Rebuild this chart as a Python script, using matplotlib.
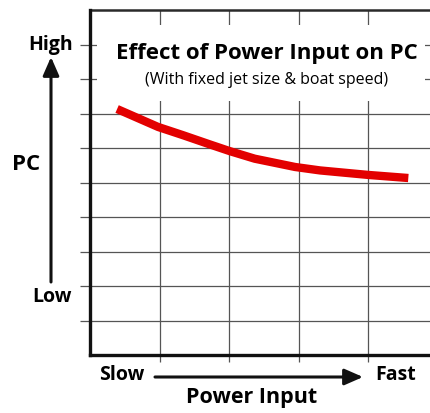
import matplotlib
matplotlib.use('Agg')
import matplotlib.pyplot as plt
from matplotlib.patches import Rectangle, FancyArrowPatch

# curve, in grid units (x: grid columns, y: grid rows)
power_input = [0.39, 0.98, 1.34, 1.73, 2.01, 2.37, 2.95, 3.31, 4.0, 4.58]
pc = [7.13, 6.61, 6.37, 6.10, 5.91, 5.69, 5.45, 5.35, 5.22, 5.13]

x_grid = [1, 2, 3, 4]
y_grid = [1, 2, 3, 4, 5, 6, 7, 8, 9]

title = 'Effect of Power Input on PC'
subtitle = '(With fixed jet size & boat speed)'

W, H = 430, 413
plt.rcParams['font.family'] = ['Open Sans', 'DejaVu Sans']

fig = plt.figure(figsize=(W / 100, H / 100), dpi=100)

def px(x, y):
    # image pixel (top-left origin) -> figure fraction
    return x / W, 1 - y / H

ax = fig.add_axes([90 / W, 1 - 355 / H, 340 / W, 345 / H])
ax.set_xlim(0, 340 / 69.5)
ax.set_ylim(0, 10)

grid_c = '#555555'
ax.set_xticks(x_grid)
ax.set_yticks(y_grid)
ax.set_xticklabels([])
ax.set_yticklabels([])
ax.tick_params(axis='x', direction='out', length=5, width=0.9, color=grid_c)
ax.tick_params(axis='y', direction='out', length=7.5, width=0.9, color=grid_c)
ax.grid(True, color=grid_c, linewidth=0.9)

ax.spines['right'].set_visible(False)
for s in ['left', 'bottom']:
    ax.spines[s].set_linewidth(2.4)
    ax.spines[s].set_color('#111111')
    ax.spines[s].set_zorder(5)
ax.spines['top'].set_linewidth(1.8)
ax.spines['top'].set_color('#2a2a2a')

# white panel behind the title
ax.add_patch(Rectangle((0.1, 7.35), 4.72, 2.22, facecolor='white',
                       edgecolor='none', zorder=3))

ax.plot(power_input, pc, color='#e30000', linewidth=6,
        solid_capstyle='butt', solid_joinstyle='round', zorder=4)

fig.text(*px(267, 53), title, ha='center', va='center',
         fontsize=16, fontweight='bold', zorder=6)
fig.text(*px(267, 80), subtitle, ha='center', va='center',
         fontsize=11.5, zorder=6)

# axis labels and arrows
lab = dict(ha='center', va='center', fontweight='bold', fontsize=14)
fig.text(*px(51, 45), 'High', **lab)
fig.text(*px(26, 165), 'PC', ha='center', va='center',
         fontweight='bold', fontsize=16)
fig.text(*px(52, 297), 'Low', **lab)
fig.text(*px(122, 375), 'Slow', **lab)
fig.text(*px(396, 375), 'Fast', **lab)
fig.text(*px(252, 398), 'Power Input', ha='center', va='center',
         fontweight='bold', fontsize=15.5)

arrow = dict(arrowstyle='-|>,head_length=0.8,head_width=0.35',
             color='#111111', linewidth=2.2, shrinkA=0, shrinkB=0)
fig.add_artist(FancyArrowPatch(px(51, 282), px(51, 57),
                               transform=fig.transFigure,
                               mutation_scale=14, **arrow))
fig.add_artist(FancyArrowPatch(px(155, 377), px(363, 377),
                               transform=fig.transFigure,
                               mutation_scale=14, **arrow))

fig.savefig('out.png', dpi=100)
